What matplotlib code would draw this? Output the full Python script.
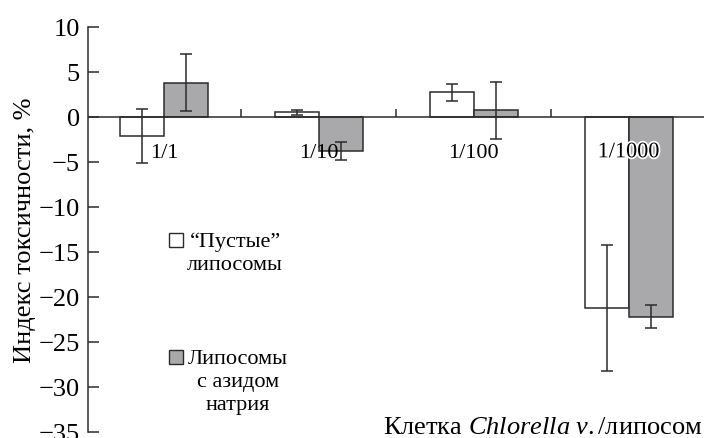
import matplotlib
matplotlib.use("Agg")
import matplotlib.pyplot as plt
import matplotlib.patheffects as pe
import numpy as np

plt.rcParams['font.family'] = ['Liberation Serif', 'DejaVu Serif']
plt.rcParams['mathtext.fontset'] = 'custom'
plt.rcParams['mathtext.rm'] = 'Liberation Serif'
plt.rcParams['mathtext.it'] = 'Liberation Serif:italic'

# values
categories = ["1/1", "1/10", "1/100", "1/1000"]
empty_vals = [-2.1, 0.5, 2.7, -21.2]
empty_err = [3.0, 0.25, 0.9, 7.0]
azide_vals = [3.8, -3.8, 0.7, -22.2]
azide_err = [3.2, 1.0, 3.2, 1.3]
y_ticks = [10, 5, 0, -5, -10, -15, -20, -25, -30, -35]

W, H = 704, 439
fig = plt.figure(figsize=(W / 100, H / 100), dpi=100)
ax = fig.add_axes([88 / W, 6 / H, (706 - 88) / W, (433 - 27.7) / H])

x = np.arange(len(categories))
bw = 0.284
gray = "#a9a9ab"
edge = "#2b2b2b"
ekw = dict(ecolor=edge, elinewidth=1.1, capsize=4.5, capthick=1.1)

ax.bar(x - bw / 2, empty_vals, bw, color="white", edgecolor=edge, linewidth=1.1,
       yerr=empty_err, error_kw=ekw, zorder=2)
ax.bar(x + bw / 2, azide_vals, bw, color=gray, edgecolor=edge, linewidth=1.1,
       yerr=azide_err, error_kw=ekw, zorder=2)

ax.axhline(0, color=edge, lw=1.1, zorder=3)
ax.vlines(x[:-1] + 0.5, 0, 0.9, color=edge, lw=1.1, zorder=3)

for i, lab in enumerate(categories):
    t = ax.text(x[i], -4.0, lab, ha="center", va="center", fontsize=16, zorder=4)
    if i == len(categories) - 1:
        t.set_path_effects([pe.withStroke(linewidth=2.5, foreground="white")])

ax.set_xlim(-0.49, 3.5)
ax.set_ylim(-35, 10)
ax.set_yticks(y_ticks)
ax.set_yticklabels([f"{v}".replace("-", "\u2212") for v in y_ticks])
ax.set_xticks([])
for s in ["top", "right", "bottom"]:
    ax.spines[s].set_visible(False)
ax.spines["left"].set_color(edge)
ax.spines["left"].set_linewidth(1.1)
ax.tick_params(axis="y", direction="in", length=8, width=1.1, color=edge,
               labelsize=19, pad=6)
ax.patch.set_alpha(0)

# legend drawn by hand
ax.plot([0.08], [-13.7], marker="s", ms=9.4, mfc="white", mec=edge, mew=1.0,
        clip_on=False)
ax.text(0.46, -15.1, "\u201cПустые\u201d\nлипосомы", ha="center", va="center",
        fontsize=16, linespacing=1.3)
ax.plot([0.08], [-26.7], marker="s", ms=9.4, mfc=gray, mec=edge, mew=1.0,
        clip_on=False)
ax.text(0.48, -29.4, "Липосомы\nс азидом\nнатрия", ha="center", va="center",
        fontsize=16, linespacing=1.3)

fig.text(25 / W, 1 - 230 / H, "Индекс токсичности, %", rotation=90,
         ha="center", va="center", fontsize=19)
fig.text(703 / W, 1 - 428 / H, r"Клетка $\mathit{Chlorella\ v.}$/липосом",
         ha="right", va="center", fontsize=19)

fig.savefig("out.png", dpi=100)
